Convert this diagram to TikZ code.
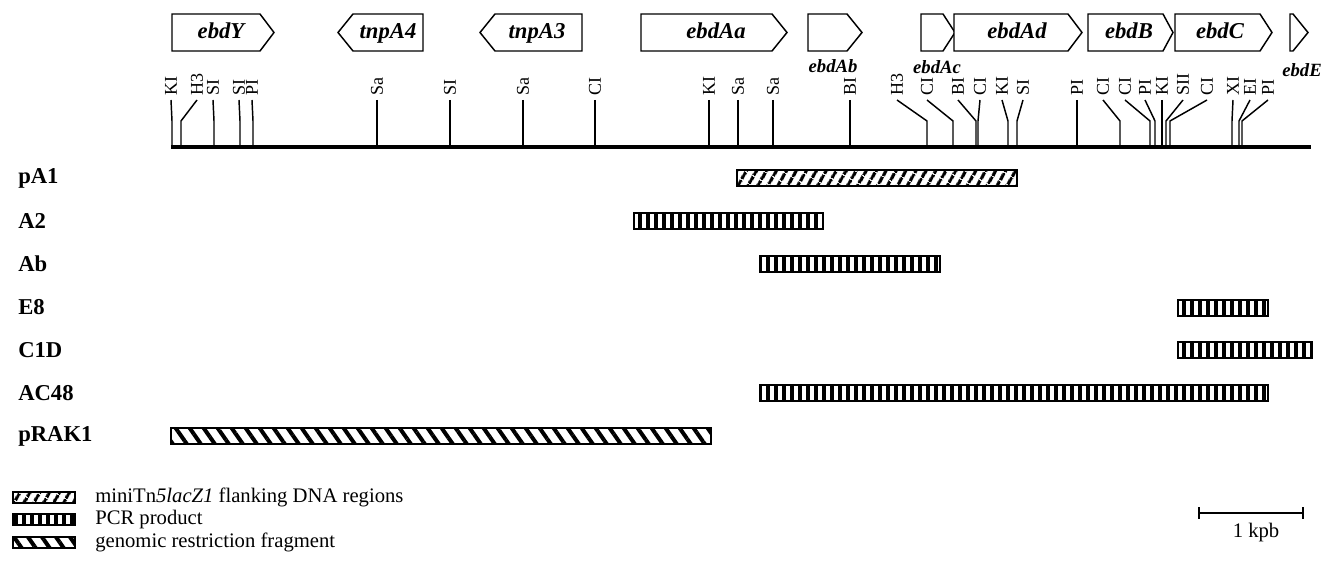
\documentclass[tikz,border=0pt]{standalone}
\usepackage{fontspec}
\setmainfont{Liberation Serif}
\usetikzlibrary{patterns.meta}
\newcommand{\gR}[4]{\draw[gene] (#1,14) -- (#2,14) -- (#3,32.5) -- (#2,51) -- (#1,51) -- cycle; \coordinate (#4) at (#1,14);}
\newcommand{\gL}[4]{\draw[gene] (#1,32.5) -- (#2,14) -- (#3,14) -- (#3,51) -- (#2,51) -- cycle; \coordinate (#4) at (#1,14);}
\begin{document}
\begin{tikzpicture}[x=0.75pt,y=-0.75pt,
  gene/.style={draw,line width=1.1pt,fill=white},
  glbl/.style={font=\fontsize{17}{17}\selectfont\bfseries\itshape, inner sep=0, anchor=base},
  gsmall/.style={font=\fontsize{14}{14}\selectfont\bfseries\itshape, inner sep=0},
  site/.style={font=\fontsize{13.5}{13.5}\selectfont, rotate=90, anchor=west, inner sep=0},
  tickln/.style={line width=1.1pt},
  rowlbl/.style={font=\fontsize{17}{17}\selectfont\bfseries, anchor=west, inner sep=0},
  flank/.style={draw, line width=1.6pt, pattern={Lines[angle=60,distance=6.5pt,line width=2.6pt]}},
  pcr/.style={draw, line width=1.6pt, pattern={Lines[angle=90,distance=6pt,line width=3.6pt]}},
  genomic/.style={draw, line width=1.6pt, pattern={Lines[angle=-55,distance=8.6pt,line width=3pt]}},
  legtxt/.style={font=\fontsize{15.5}{15.5}\selectfont, anchor=west, inner sep=0},
]
\useasboundingbox (0,0) rectangle (1322,577);

% genes
\gR{172}{260}{274}{gY}
\node[glbl] (ebdY) at (221,39) {ebdY};
\gL{338}{353}{423}{gA4}
\node[glbl] (tnpA4) at (388,39) {tnpA4};
\gL{480}{495}{582}{gA3}
\node[glbl] (tnpA3) at (537,39) {tnpA3};
\gR{641}{772}{787}{gAa}
\node[glbl] (ebdAa) at (716,39) {ebdAa};
\gR{808}{847}{862}{gAb}
\node[gsmall] (ebdAb) at (833,66) {ebdAb};
\gR{921}{943}{955}{gAc}
\node[gsmall] (ebdAc) at (937,67) {ebdAc};
\gR{954}{1068}{1082}{gAd}
\node[glbl] (ebdAd) at (1017,39) {ebdAd};
\gR{1088}{1163}{1173}{gB}
\node[glbl] (ebdB) at (1129,39) {ebdB};
\gR{1175}{1260}{1272}{gC}
\node[glbl] (ebdC) at (1220,39) {ebdC};
\gR{1290}{1293}{1308}{gE}
\node[gsmall, anchor=east] (ebdE) at (1322,70) {ebdE};

% restriction sites
\foreach \lx/\sx/\t [count=\i] in {171/172/KI, 197/181/H3, 213/214/SI, 239/240/SI, 252/253/PI,
  377/377/Sa, 450/450/SI, 523/523/Sa, 595/595/CI, 709/709/KI, 738/738/Sa, 773/773/Sa, 850/850/BI,
  897/927/H3, 927/953/CI, 958/976/BI, 980/978/CI, 1002/1008/KI, 1023/1017/SI, 1077/1077/PI,
  1103/1120/CI, 1125/1150/CI, 1145/1155/PI, 1162/1162/KI, 1183/1166/SII, 1207/1170/CI,
  1233/1232/XI, 1250/1239/EI, 1268/1242/PI} {
  \node[site] (s\i) at (\lx,95.5) {\t};
  \coordinate (b\i) at (\sx,121);
  \coordinate (m\i) at (\sx,147);
  \draw[tickln] (\lx,100) -- (b\i) -- (m\i);
}

% main line
\coordinate (mL) at (171,147);
\coordinate (mR) at (1311,147);
\draw[line width=3.7pt] (mL) -- (mR);

% rows
\node[rowlbl] (lpA1) at (18,178) {pA1};
\node[rowlbl] (lA2) at (18,221) {A2};
\node[rowlbl] (lAb) at (18,264) {Ab};
\node[rowlbl] (lE8) at (18,307) {E8};
\node[rowlbl] (lC1D) at (18,350) {C1D};
\node[rowlbl] (lAC48) at (18,393) {AC48};
\node[rowlbl] (lpRAK1) at (18,436) {pRAK1};

\path[flank] (737,170) rectangle (1017,186);
\path[pcr] (634,213) rectangle (823,229);
\path[pcr] (760,256) rectangle (940,272);
\path[pcr] (1178,300) rectangle (1268,316);
\path[pcr] (1178,342) rectangle (1312,358);
\path[pcr] (760,385) rectangle (1268,401);
\path[genomic] (171,428) rectangle (711,444);

% legend
\path[flank] (13,492) rectangle (75,503);
\node[legtxt] (t1) at (95,497) {miniTn\textit{5lacZ1} flanking DNA regions};
\path[pcr] (13,514) rectangle (75,525);
\node[legtxt] (t2) at (95,519.5) {PCR product};
\path[genomic] (13,537) rectangle (75,548);
\node[legtxt] (t3) at (95,542.5) {genomic restriction fragment};

% scale bar
\coordinate (sbL) at (1199,513);
\coordinate (sbR) at (1303,513);
\draw[line width=1.3pt] (sbL) -- (sbR);
\draw[line width=1.1pt] (1199,507) -- (1199,519) (1303,507) -- (1303,519);
\node[font=\fontsize{15.5}{15.5}\selectfont, inner sep=0] (kpb) at (1256,533) {1 kpb};
\end{tikzpicture}
\end{document}
